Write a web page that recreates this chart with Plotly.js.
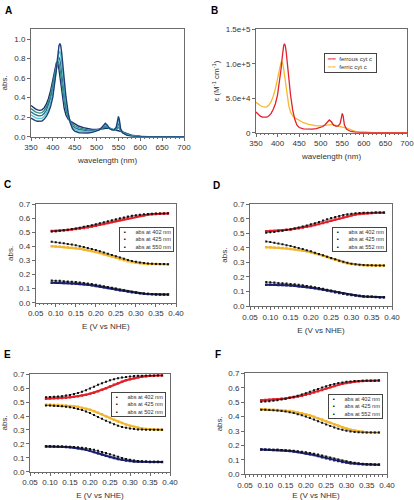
<!DOCTYPE html>
<html><head><meta charset="utf-8">
<script src="https://cdn.plot.ly/plotly-3.0.1.min.js"></script>
<style>html,body{margin:0;padding:0;background:#fff}#chart{width:414px;height:500px}</style>
</head><body><div id="chart"></div>
<script>
// ---------- Panel A / B : spectra ----------
const wavelength = [350,355,360,365,370,375,380,385,390,395,400,405,408,410,412,414,416,418,420,423,426,430,435,440,445,450,460,470,480,490,500,505,510,515,520,525,530,535,540,545,548,550,552,555,560,565,570,580,590,600,620,650,680,700];
const ferrousEps = [30000,26500,24000,22500,22000,22500,24500,28000,34000,42000,55000,75000,92000,105000,117000,126000,129000,126000,117000,98000,78000,55000,33000,19000,11000,7500,5500,5000,5200,6000,7500,9000,11500,15500,18500,15500,11000,9500,9500,13000,22000,28000,24000,11000,5000,2800,1800,800,400,200,100,0,0,0];
const ferricEps = [44000,41500,39500,38000,37000,37500,40000,45000,53000,64000,78000,94000,102000,103000,100000,93000,84000,74000,63000,49000,39000,30000,24500,21500,19500,17500,14500,12500,11000,10000,9800,10000,10500,11000,11500,12000,11800,10500,9500,8500,8200,8000,7800,7500,6800,5500,4000,2000,900,400,100,0,0,0];
const absSpec1 = [.19,.175,.165,.158,.156,.16,.178,.207,.252,.311,.407,.555,.681,.777,.866,.932,.955,.932,.866,.725,.577,.407,.244,.141,.081,.056,.041,.037,.038,.044,.056,.067,.085,.115,.137,.115,.081,.070,.070,.096,.163,.207,.178,.081,.037,.021,.013,.006,.003,.001,.001,0,0,0];
const absSpec2 = [.223,.206,.195,.187,.185,.189,.207,.239,.287,.352,.450,.590,.700,.773,.835,.871,.872,.836,.766,.635,.505,.361,.228,.146,.097,.075,.058,.051,.049,.052,.060,.069,.083,.107,.124,.109,.083,.072,.070,.088,.138,.170,.148,.075,.040,.026,.017,.008,.004,.002,.001,0,0,0];
const absSpec3 = [.255,.238,.225,.217,.213,.218,.237,.270,.322,.393,.492,.626,.718,.770,.803,.810,.789,.740,.666,.544,.433,.315,.213,.150,.113,.093,.074,.065,.060,.059,.065,.071,.082,.098,.111,.102,.084,.074,.070,.080,.112,.133,.118,.069,.044,.031,.022,.011,.005,.002,.001,0,0,0];
const absSpec4 = [.288,.269,.255,.246,.242,.246,.266,.302,.357,.433,.535,.661,.737,.766,.772,.749,.705,.644,.566,.454,.361,.268,.197,.155,.128,.112,.091,.079,.070,.067,.069,.072,.080,.090,.098,.096,.086,.076,.070,.071,.087,.096,.088,.062,.047,.036,.026,.013,.006,.002,.001,0,0,0];
const absSpec5 = [.32,.30,.285,.275,.27,.275,.295,.333,.392,.474,.577,.696,.755,.762,.740,.688,.622,.548,.466,.363,.289,.222,.181,.159,.144,.130,.107,.093,.081,.074,.073,.074,.078,.081,.085,.089,.087,.078,.070,.063,.061,.059,.058,.056,.050,.041,.030,.015,.007,.003,.001,0,0,0];
const specColors = ['#1c2a6e','#2f8f7a','#2a6f96','#5cc6cf','#1d3f7a'];
const specBLabels = ['ferrous cyt c','ferric cyt c'];
const wlTickVals = [350,400,450,500,550,600,650,700];
const wlTickText = ['350','400','450','500','550','600','650','700'];
const epsTickVals = [0,50000,100000,150000];
const epsTickText = ['0','5.0e+4','1.0e+5','1.5e+5'];

// ---------- Panels C-F : redox titrations ----------
const potential = [0.09,0.10,0.11,0.12,0.13,0.14,0.15,0.16,0.17,0.18,0.19,0.20,0.21,0.22,0.23,0.24,0.25,0.26,0.27,0.28,0.29,0.30,0.31,0.32,0.33,0.34,0.35,0.36,0.37,0.38];

const c402Blk = [0.505,0.507,0.510,0.514,0.518,0.522,0.527,0.532,0.538,0.544,0.550,0.556,0.563,0.570,0.577,0.585,0.592,0.599,0.605,0.611,0.616,0.620,0.624,0.627,0.629,0.631,0.632,0.633,0.633,0.634];
const c402Col = [0.508,0.509,0.511,0.513,0.516,0.519,0.522,0.526,0.530,0.535,0.540,0.546,0.552,0.558,0.565,0.572,0.579,0.586,0.593,0.599,0.605,0.611,0.616,0.620,0.624,0.627,0.629,0.631,0.632,0.633];
const c425Blk = [0.432,0.429,0.425,0.421,0.417,0.412,0.407,0.401,0.395,0.388,0.381,0.373,0.365,0.356,0.347,0.338,0.329,0.320,0.311,0.303,0.296,0.290,0.285,0.281,0.278,0.276,0.275,0.274,0.274,0.273];
const c425Col = [0.401,0.399,0.397,0.395,0.392,0.389,0.386,0.382,0.377,0.372,0.366,0.360,0.352,0.344,0.336,0.327,0.318,0.309,0.301,0.294,0.288,0.283,0.279,0.277,0.275,0.274,0.274,0.273,0.273,0.273];
const c550Blk = [0.157,0.156,0.155,0.153,0.151,0.149,0.146,0.143,0.140,0.136,0.132,0.127,0.122,0.117,0.112,0.106,0.100,0.094,0.088,0.083,0.078,0.073,0.069,0.066,0.063,0.061,0.060,0.059,0.058,0.058];
const c550Col = [0.142,0.142,0.141,0.140,0.139,0.137,0.135,0.133,0.130,0.127,0.123,0.119,0.115,0.110,0.105,0.100,0.094,0.089,0.084,0.079,0.074,0.070,0.067,0.064,0.062,0.060,0.059,0.058,0.058,0.058];

const d402Blk = [0.505,0.507,0.510,0.514,0.518,0.523,0.528,0.534,0.540,0.547,0.554,0.562,0.570,0.579,0.588,0.597,0.605,0.613,0.620,0.626,0.631,0.635,0.638,0.640,0.641,0.642,0.642,0.643,0.643,0.643];
const d402Col = [0.515,0.516,0.517,0.519,0.521,0.524,0.527,0.531,0.535,0.540,0.545,0.551,0.557,0.564,0.571,0.579,0.587,0.595,0.603,0.611,0.618,0.624,0.629,0.633,0.636,0.638,0.640,0.641,0.642,0.642];
const d425Blk = [0.444,0.440,0.435,0.430,0.425,0.419,0.413,0.406,0.399,0.392,0.384,0.376,0.367,0.358,0.349,0.339,0.330,0.321,0.312,0.304,0.297,0.291,0.287,0.284,0.282,0.280,0.280,0.279,0.279,0.279];
const d425Col = [0.405,0.404,0.403,0.401,0.399,0.396,0.393,0.390,0.386,0.381,0.376,0.370,0.363,0.355,0.346,0.337,0.327,0.318,0.309,0.301,0.294,0.289,0.285,0.282,0.281,0.280,0.279,0.279,0.279,0.278];
const d552Blk = [0.165,0.163,0.161,0.159,0.157,0.155,0.152,0.149,0.146,0.142,0.138,0.134,0.129,0.124,0.118,0.112,0.106,0.100,0.094,0.088,0.083,0.078,0.074,0.070,0.067,0.065,0.063,0.062,0.061,0.061];
const d552Col = [0.147,0.147,0.146,0.145,0.144,0.143,0.141,0.139,0.136,0.133,0.130,0.126,0.122,0.117,0.112,0.106,0.101,0.095,0.090,0.085,0.080,0.076,0.072,0.069,0.066,0.064,0.063,0.062,0.061,0.061];

const e402Blk = [0.535,0.536,0.538,0.540,0.543,0.547,0.552,0.558,0.566,0.575,0.586,0.598,0.611,0.624,0.636,0.647,0.657,0.665,0.672,0.677,0.681,0.685,0.687,0.689,0.690,0.691,0.692,0.692,0.693,0.693];
const e402Col = [0.525,0.526,0.527,0.528,0.530,0.532,0.535,0.538,0.542,0.547,0.553,0.560,0.568,0.578,0.589,0.600,0.612,0.624,0.636,0.647,0.657,0.665,0.672,0.678,0.683,0.686,0.689,0.690,0.691,0.692];
const e425Blk = [0.476,0.475,0.474,0.472,0.470,0.467,0.463,0.458,0.451,0.443,0.433,0.421,0.408,0.394,0.380,0.366,0.353,0.341,0.331,0.322,0.315,0.310,0.306,0.304,0.303,0.302,0.302,0.301,0.301,0.301];
const e425Col = [0.482,0.481,0.480,0.479,0.478,0.476,0.473,0.470,0.466,0.460,0.453,0.445,0.435,0.424,0.412,0.399,0.386,0.373,0.361,0.350,0.340,0.331,0.323,0.316,0.311,0.307,0.305,0.303,0.302,0.302];
const e502Blk = [0.183,0.183,0.182,0.182,0.181,0.180,0.179,0.177,0.175,0.172,0.168,0.163,0.157,0.150,0.142,0.134,0.125,0.116,0.107,0.099,0.092,0.086,0.081,0.077,0.075,0.073,0.072,0.071,0.071,0.070];
const e502Col = [0.182,0.182,0.181,0.180,0.179,0.177,0.175,0.172,0.168,0.163,0.157,0.150,0.142,0.133,0.124,0.115,0.106,0.098,0.091,0.085,0.080,0.077,0.074,0.072,0.071,0.071,0.070,0.070,0.070,0.070];

const f402Blk = [0.502,0.504,0.507,0.510,0.514,0.519,0.524,0.530,0.537,0.545,0.553,0.562,0.572,0.582,0.592,0.602,0.611,0.619,0.626,0.632,0.637,0.641,0.644,0.646,0.647,0.648,0.649,0.649,0.649,0.650];
const f402Col = [0.514,0.515,0.516,0.518,0.520,0.523,0.526,0.530,0.534,0.539,0.545,0.552,0.559,0.567,0.576,0.585,0.594,0.603,0.612,0.620,0.627,0.633,0.638,0.642,0.645,0.647,0.648,0.649,0.649,0.650];
const f425Blk = [0.448,0.447,0.446,0.444,0.442,0.439,0.435,0.430,0.424,0.417,0.409,0.400,0.390,0.379,0.368,0.357,0.346,0.335,0.325,0.316,0.308,0.302,0.297,0.294,0.292,0.290,0.290,0.289,0.289,0.289];
const f425Col = [0.450,0.449,0.448,0.447,0.446,0.444,0.441,0.438,0.434,0.429,0.423,0.416,0.408,0.399,0.389,0.379,0.368,0.357,0.346,0.336,0.326,0.317,0.309,0.303,0.298,0.295,0.292,0.291,0.290,0.289];
const f552Blk = [0.172,0.172,0.171,0.171,0.170,0.169,0.167,0.165,0.163,0.160,0.157,0.153,0.148,0.143,0.137,0.131,0.124,0.117,0.110,0.103,0.096,0.090,0.085,0.080,0.076,0.073,0.071,0.069,0.068,0.068];
const f552Col = [0.172,0.171,0.170,0.169,0.168,0.166,0.164,0.161,0.158,0.154,0.150,0.145,0.139,0.133,0.126,0.119,0.112,0.105,0.098,0.092,0.086,0.081,0.077,0.074,0.071,0.069,0.068,0.068,0.067,0.067];

const legendC = ['abs at 402 nm','abs at 425 nm','abs at 550 nm'];
const legendD = ['abs at 402 nm','abs at 425 nm','abs at 552 nm'];
const legendE = ['abs at 402 nm','abs at 425 nm','abs at 502 nm'];
const legendF = ['abs at 402 nm','abs at 425 nm','abs at 552 nm'];
const panelLetters = ['A','B','C','D','E','F'];
const bandColors = ['#e0202a','#f2b52c','#1b2170'];

// ---------- build ----------
const W = 414, H = 500;
const FONT = 'Liberation Sans';
const dxp = (a,b) => [a/W, b/W];
const dyp = (t,b) => [1-b/H, 1-t/H];

const traces = [];
[absSpec5,absSpec4,absSpec3,absSpec2,absSpec1].forEach((s,i) => {
  traces.push({x:wavelength, y:s, xaxis:'x', yaxis:'y', mode:'lines', line:{color:specColors[i], width:1.4}});
});
traces.push({x:wavelength, y:ferricEps, xaxis:'x2', yaxis:'y2', mode:'lines', name:specBLabels[1], line:{color:'#f5b82e', width:1.3}});
traces.push({x:wavelength, y:ferrousEps, xaxis:'x2', yaxis:'y2', mode:'lines', name:specBLabels[0], line:{color:'#e3202c', width:1.3}});

function titration(ax, sets){
  sets.forEach((pair,i) => {
    traces.push({x:potential, y:pair[1], xaxis:'x'+ax, yaxis:'y'+ax, mode:'lines+markers',
      line:{color:bandColors[i], width:2}, marker:{color:bandColors[i], size:2.5, symbol:'square'}});
  });
  sets.forEach((pair,i) => {
    traces.push({x:potential, y:pair[0], xaxis:'x'+ax, yaxis:'y'+ax, mode:'lines+markers',
      line:{color:'#222', width:0.6}, marker:{color:'#111', size:2, symbol:'square'}});
  });
}
titration(3, [[c402Blk,c402Col],[c425Blk,c425Col],[c550Blk,c550Col]]);
titration(4, [[d402Blk,d402Col],[d425Blk,d425Col],[d552Blk,d552Col]]);
titration(5, [[e402Blk,e402Col],[e425Blk,e425Col],[e502Blk,e502Col]]);
titration(6, [[f402Blk,f402Col],[f425Blk,f425Col],[f552Blk,f552Col]]);

const base = {showline:true, mirror:true, linecolor:'#6b6b6b', linewidth:1, ticks:'outside', ticklen:3,
  tickwidth:1, tickcolor:'#6b6b6b', showgrid:false, zeroline:false, automargin:false, ticklabeloverflow:'allow',
  tickfont:{family:FONT, size:8, color:'#333'}};
const tfont = {family:FONT, size:8, color:'#333'};

function xE(dom){ return Object.assign({}, base, {domain:dom, range:[0.05,0.40], dtick:0.05, tick0:0.05, tickformat:'.2f',
  minor:{dtick:0.01, ticklen:1.5, tickcolor:'#6b6b6b', ticks:'outside'},
  title:{text:'E (V vs NHE)', font:tfont, standoff:6}}); }
function yA(dom){ return Object.assign({}, base, {domain:dom, range:[0,0.7], dtick:0.1, tickformat:'.1f',
  title:{text:'abs.', font:tfont, standoff:4}}); }

const layout = {
  width:W, height:H, margin:{l:0,r:0,t:0,b:0}, showlegend:false,
  paper_bgcolor:'#fff', plot_bgcolor:'#fff', font:{family:FONT, color:'#333'},
  xaxis: Object.assign({}, base, {domain:dxp(31,184), range:[350,700], dtick:50,
    minor:{dtick:10, ticklen:1.5, tickcolor:'#6b6b6b', ticks:'outside'},
    title:{text:'wavelength (nm)', font:tfont, standoff:6}}),
  yaxis: Object.assign({}, base, {domain:dyp(29.3,136.7), range:[0,1.1], tickvals:[0,0.2,0.4,0.6,0.8,1.0], tickformat:'.1f',
    title:{text:'abs.', font:tfont, standoff:6}}),
  xaxis2: Object.assign({}, base, {domain:dxp(256,407), range:[350,700], tickmode:'array', tickvals:wlTickVals, ticktext:wlTickText, anchor:'y2',
    minor:{dtick:10, ticklen:1.5, tickcolor:'#6b6b6b', ticks:'outside'},
    title:{text:'wavelength (nm)', font:tfont, standoff:6}}),
  yaxis2: Object.assign({}, base, {domain:dyp(29.3,132.7), range:[0,150000], tickvals:epsTickVals, ticktext:epsTickText, anchor:'x2',
    title:{text:'ε (M<sup>-1</sup> cm<sup>-1</sup>)', font:tfont, standoff:4}}),
  xaxis3: Object.assign(xE(dxp(35.7,176)), {anchor:'y3'}),
  yaxis3: Object.assign(yA(dyp(204,302.7)), {anchor:'x3'}),
  xaxis4: Object.assign(xE(dxp(250,392)), {anchor:'y4'}),
  yaxis4: Object.assign(yA(dyp(204.3,306)), {anchor:'x4'}),
  xaxis5: Object.assign(xE(dxp(30,170)), {anchor:'y5'}),
  yaxis5: Object.assign(yA(dyp(374.3,471.7)), {anchor:'x5'}),
  xaxis6: Object.assign(xE(dxp(245,387)), {anchor:'y6'}),
  yaxis6: Object.assign(yA(dyp(373.3,474.3)), {anchor:'x6'}),
  annotations: []
};

// panel letters
const letterPos = [[2.5,2.5],[209,2.5],[2,177],[211,178],[2,347],[213,347]];
panelLetters.forEach((L,i) => layout.annotations.push({text:'<b>'+L+'</b>', xref:'paper', yref:'paper',
  x:letterPos[i][0]/W, y:1-letterPos[i][1]/H, xanchor:'left', yanchor:'top', showarrow:false,
  font:{family:FONT, size:10, color:'#000'}}));

const NB = '\u00a0';
// legend B (box sized by its own text)
layout.annotations.push({xref:'paper', yref:'paper', x:324/W, y:1-53/H, xanchor:'left', yanchor:'top', showarrow:false,
  align:'left', bordercolor:'#444', borderwidth:1, bgcolor:'#fff', borderpad:2,
  font:{family:FONT, size:6, color:'#333'},
  text:'<span style="color:#e3202c">━━</span>'+NB+NB+specBLabels[0]+NB+'<br><span style="color:#f5b82e">━━</span>'+NB+NB+specBLabels[1]});

function titLegend(labels, x0, y0){
  layout.annotations.push({xref:'paper', yref:'paper', x:x0/W, y:1-y0/H, xanchor:'left', yanchor:'top', showarrow:false,
    align:'left', bordercolor:'#444', borderwidth:1, bgcolor:'#fff', borderpad:1,
    font:{family:FONT, size:5.6, color:'#333'},
    text: labels.map(l => NB+NB+'<span style="color:#000">▪</span>'+NB.repeat(6)+l+NB).join('<br>')});
}
titLegend(legendC, 119, 227);
titLegend(legendD, 332, 227);
titLegend(legendE, 111, 392);
titLegend(legendF, 328, 394);

Plotly.newPlot('chart', traces, layout, {displayModeBar:false, staticPlot:true}).then(gd => {
  // make sure every tick label of panel B's wavelength axis stays displayed
  gd.querySelectorAll('g.x2tick text').forEach(t => { t.removeAttribute('display'); t.style.display = ''; t.style.opacity = 1; });
});
</script></body></html>
